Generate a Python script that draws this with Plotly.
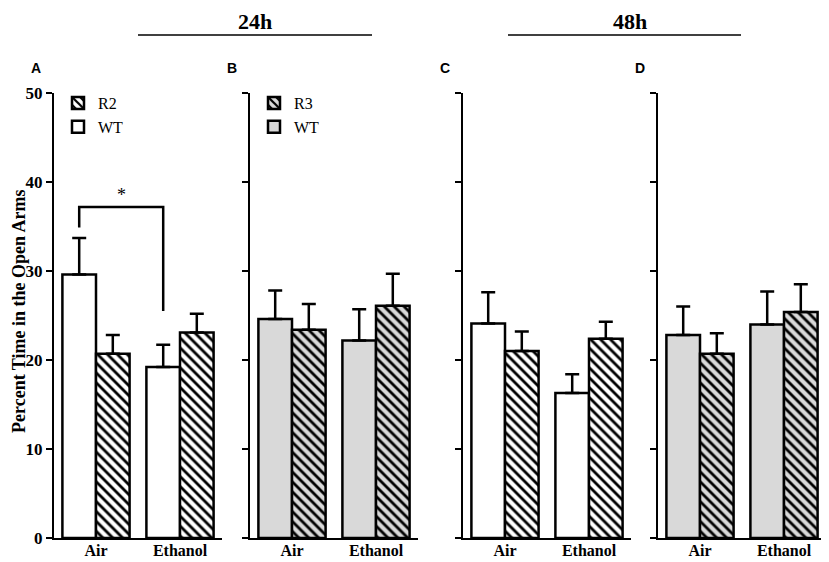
import plotly.graph_objects as go

# Percent time in the open arms (mean + SEM)
conditions = ["Air", "Ethanol"]

a_wt = [29.6, 19.2]
a_wt_err = [4.1, 2.5]
a_r2 = [20.7, 23.1]
a_r2_err = [2.1, 2.1]

b_wt = [24.6, 22.2]
b_wt_err = [3.2, 3.5]
b_r3 = [23.4, 26.1]
b_r3_err = [2.9, 3.6]

c_wt = [24.1, 16.3]
c_wt_err = [3.5, 2.1]
c_r2 = [21.0, 22.4]
c_r2_err = [2.2, 1.9]

d_wt = [22.8, 24.0]
d_wt_err = [3.2, 3.7]
d_r3 = [20.7, 25.4]
d_r3_err = [2.3, 3.1]

# significance bracket in panel A: left leg start, bar height, right leg end
sig_a = [34.9, 37.2, 25.5]

# the page body adds an 8px margin, so the figure is drawn 8px smaller
OFF = 8
W, H = 829 - OFF, 562 - OFF
GRAY = "#d9d9d9"
SERIF = "Liberation Serif"
BARGAP = 0.2


def px(x):
    return (x - OFF) / W


def py(y):
    return 1 - (y - OFF) / H


panels = [
    dict(letter="A", mutant="R2", wt=a_wt, wt_err=a_wt_err, mu=a_r2, mu_err=a_r2_err, fill="white", left=54, legend="legend"),
    dict(letter="B", mutant="R3", wt=b_wt, wt_err=b_wt_err, mu=b_r3, mu_err=b_r3_err, fill=GRAY, left=250, legend="legend2"),
    dict(letter="C", mutant="R2", wt=c_wt, wt_err=c_wt_err, mu=c_r2, mu_err=c_r2_err, fill="white", left=463, legend=None),
    dict(letter="D", mutant="R3", wt=d_wt, wt_err=d_wt_err, mu=d_r3, mu_err=d_r3_err, fill=GRAY, left=658, legend=None),
]

fig = go.Figure()
layout = {}
annotations = []

for i, p in enumerate(panels, start=1):
    xa = "x" if i == 1 else f"x{i}"
    ya = "y" if i == 1 else f"y{i}"
    show = p["legend"] is not None
    err_style = dict(type="data", symmetric=False, color="black", thickness=2.5, width=7)

    fig.add_trace(go.Bar(
        x=conditions, y=p["wt"], name="WT", xaxis=xa, yaxis=ya,
        marker=dict(color=p["fill"], line=dict(color="black", width=2.5)),
        error_y=dict(array=p["wt_err"], arrayminus=[0, 0], **err_style),
        showlegend=show, legend=p["legend"] or "legend",
    ))
    fig.add_trace(go.Bar(
        x=conditions, y=p["mu"], name=p["mutant"], xaxis=xa, yaxis=ya,
        marker=dict(color=p["fill"], line=dict(color="black", width=2.5),
                    pattern=dict(shape="\\", fgcolor="black", bgcolor=p["fill"],
                                 size=7, solidity=0.4)),
        error_y=dict(array=p["mu_err"], arrayminus=[0, 0], **err_style),
        showlegend=show, legend=p["legend"] or "legend",
    ))

    key = "" if i == 1 else str(i)
    layout[f"xaxis{key}"] = dict(
        domain=[px(p["left"]), px(p["left"] + 168)], anchor=ya, automargin=False,
        range=[-0.5, 1.5], showline=True, linecolor="black", linewidth=2,
        ticks="", showgrid=False, zeroline=False, ticklabelstandoff=-3,
        tickfont=dict(family=SERIF, size=16, color="black", weight="bold"),
    )
    layout[f"yaxis{key}"] = dict(
        domain=[py(538), py(93)], anchor=xa, automargin=False,
        range=[0, 50], tickvals=[0, 10, 20, 30, 40, 50],
        showline=True, linecolor="black", linewidth=2,
        ticks="outside", ticklen=6, tickwidth=2, tickcolor="black",
        showgrid=False, zeroline=False, showticklabels=(i == 1),
        tickfont=dict(family=SERIF, size=17, color="black", weight="bold"),
    )
    annotations.append(dict(
        text=f"<b>{p['letter']}</b>", x=px(p["left"] - 18), y=py(68),
        xref="paper", yref="paper", xanchor="center", yanchor="middle", showarrow=False,
        font=dict(family="Liberation Sans", size=14, color="black"),
    ))

# bracket with asterisk between Air WT and Ethanol WT in panel A
wt_off = -(1 - BARGAP) / 4
x_left = conditions.index("Air") + wt_off
x_right = conditions.index("Ethanol") + wt_off
shapes = [dict(
    type="path", xref="x", yref="y",
    path=f"M {x_left},{sig_a[0]} V {sig_a[1]} H {x_right} V {sig_a[2]}",
    line=dict(color="black", width=2.5),
)]
annotations.append(dict(
    text="*", x=(x_left + x_right) / 2, y=sig_a[1], xref="x", yref="y",
    xanchor="center", yanchor="bottom", showarrow=False,
    font=dict(family=SERIF, size=18, color="black"),
))

# time-point headers
for label, x0, x1, xc in [("24h", 138, 372, 255), ("48h", 508, 741, 630)]:
    shapes.append(dict(type="line", xref="paper", yref="paper",
                       x0=px(x0), x1=px(x1), y0=py(35), y1=py(35),
                       line=dict(color="black", width=1.5)))
    annotations.append(dict(
        text=f"<b>{label}</b>", x=px(xc), y=py(21), xref="paper", yref="paper",
        xanchor="center", yanchor="middle", showarrow=False,
        font=dict(family=SERIF, size=22, color="black"),
    ))

annotations.append(dict(
    text="<b>Percent Time in the Open Arms</b>", x=px(19), y=py(312),
    xref="paper", yref="paper", xanchor="center", yanchor="middle",
    textangle=-90, showarrow=False,
    font=dict(family=SERIF, size=18, color="black"),
))

legend_style = dict(
    xanchor="left", yanchor="top", traceorder="reversed",
    font=dict(family=SERIF, size=16, color="black"),
    bgcolor="rgba(0,0,0,0)", itemwidth=30, tracegroupgap=0,
)
fig.update_layout(
    template="none",
    width=W, height=H,
    margin=dict(l=0, r=0, t=0, b=0),
    plot_bgcolor="white", paper_bgcolor="white",
    barmode="group", bargap=BARGAP, bargroupgap=0,
    legend=dict(x=px(58), y=py(86), **legend_style),
    legend2=dict(x=px(254), y=py(86), **legend_style),
    shapes=shapes, annotations=annotations,
    **layout,
)

fig.write_html("out.html")
